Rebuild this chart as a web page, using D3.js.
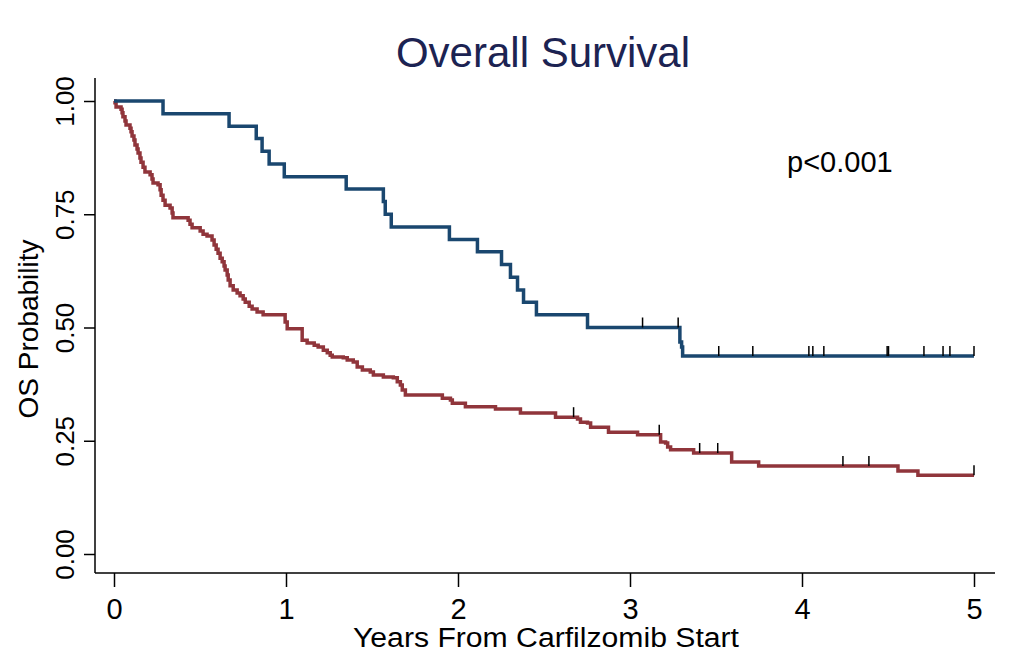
<!DOCTYPE html>
<html>
<head>
<meta charset="utf-8">
<script src="https://cdn.jsdelivr.net/npm/d3@7"></script>
<style>
  body { margin: 0; background: #ffffff; }
  text { font-family: "Liberation Sans", Arial, sans-serif; }
</style>
</head>
<body>
<div id="chart"></div>
<script>
// Kaplan-Meier steps (time in years, survival after the drop)
const blueTimes = [0.285, 0.669, 0.827, 0.861, 0.902, 0.990, 1.350, 1.566, 1.577, 1.612,
    1.950, 2.113, 2.253, 2.305, 2.346, 2.381, 2.456, 2.753, 3.290, 3.300, 3.306];
const blueSurv = [0.972, 0.944, 0.917, 0.889, 0.861, 0.833, 0.806, 0.778, 0.750, 0.722,
    0.694, 0.667, 0.639, 0.611, 0.583, 0.556, 0.528, 0.500, 0.468, 0.457, 0.437];
const blueCensor = [3.073, 3.280, 3.516, 3.714, 4.040, 4.063, 4.127, 4.495, 4.503,
    4.709, 4.820, 4.860, 5.0];

const redTimes = [0.006, 0.012, 0.041, 0.047, 0.052, 0.064, 0.070, 0.093, 0.099, 0.105,
    0.116, 0.122, 0.134, 0.140, 0.151, 0.157, 0.169, 0.180, 0.210, 0.221,
    0.227, 0.256, 0.268, 0.274, 0.285, 0.297, 0.326, 0.338, 0.343, 0.431,
    0.442, 0.454, 0.501, 0.518, 0.541, 0.570, 0.582, 0.594, 0.605, 0.617,
    0.629, 0.640, 0.646, 0.658, 0.664, 0.675, 0.693, 0.716, 0.733, 0.751,
    0.763, 0.786, 0.803, 0.832, 0.867, 0.995, 1.007, 1.094, 1.123, 1.164,
    1.187, 1.217, 1.240, 1.257, 1.269, 1.333, 1.356, 1.391, 1.414, 1.444,
    1.490, 1.508, 1.566, 1.624, 1.647, 1.665, 1.676, 1.694, 1.909, 1.956,
    1.967, 2.043, 2.218, 2.363, 2.567, 2.695, 2.712, 2.753, 2.771, 2.875,
    3.044, 3.178, 3.207, 3.219, 3.236, 3.370, 3.591, 3.748, 4.558, 4.674];
const redSurv = [0.996, 0.987, 0.982, 0.974, 0.965, 0.956, 0.947, 0.940, 0.932, 0.923,
    0.914, 0.903, 0.894, 0.885, 0.874, 0.865, 0.854, 0.843, 0.837, 0.828,
    0.819, 0.815, 0.804, 0.792, 0.781, 0.770, 0.764, 0.753, 0.742, 0.737,
    0.728, 0.720, 0.713, 0.706, 0.702, 0.693, 0.682, 0.673, 0.664, 0.653,
    0.645, 0.636, 0.627, 0.616, 0.605, 0.592, 0.583, 0.576, 0.570, 0.563,
    0.556, 0.547, 0.541, 0.534, 0.528, 0.512, 0.497, 0.472, 0.466, 0.461,
    0.457, 0.450, 0.444, 0.439, 0.435, 0.433, 0.428, 0.424, 0.413, 0.406,
    0.402, 0.395, 0.391, 0.389, 0.380, 0.373, 0.362, 0.351, 0.344, 0.340,
    0.333, 0.325, 0.320, 0.311, 0.302, 0.298, 0.291, 0.289, 0.280, 0.269,
    0.263, 0.247, 0.245, 0.236, 0.230, 0.223, 0.203, 0.194, 0.183, 0.174];
const redCensor = [2.672, 3.170, 3.405, 3.510, 4.238, 4.389, 5.0];

const xTicks = [0, 1, 2, 3, 4, 5];
const yTicks = [0, 0.25, 0.5, 0.75, 1];

const width = 1024, height = 660;
const navy = "#1a476f", maroon = "#90353b";

const svg = d3.select("#chart").append("svg")
    .attr("width", width)
    .attr("height", height);

// plot region (axis spines) and data range inside it
const plot = {left: 95, right: 995, top: 78, bottom: 573};
const x = d3.scaleLinear().domain([0, 5]).range([114, 974]);
const y = d3.scaleLinear().domain([0, 1]).range([554, 101]);

// title
svg.append("text")
    .attr("x", 543)
    .attr("y", 67)
    .attr("text-anchor", "middle")
    .attr("font-size", 42)
    .attr("fill", "#1c2352")
    .text("Overall Survival");

// x axis
const xAxis = svg.append("g")
    .attr("transform", `translate(0,${plot.bottom})`)
    .call(d3.axisBottom(x).tickValues(xTicks).tickSize(14).tickFormat(d3.format("d")));
xAxis.select(".domain").remove();
xAxis.selectAll(".tick line").attr("stroke", "#000").attr("stroke-width", 1.5);
xAxis.selectAll(".tick text")
    .attr("y", 46)
    .attr("dy", 0)
    .attr("font-size", 29)
    .attr("fill", "#000");

// y axis
const yAxis = svg.append("g")
    .attr("transform", `translate(${plot.left},0)`)
    .call(d3.axisLeft(y).tickValues(yTicks).tickSize(11).tickFormat(d3.format(".2f")));
yAxis.select(".domain").remove();
yAxis.selectAll(".tick line").attr("stroke", "#000").attr("stroke-width", 1.5);
yAxis.selectAll(".tick text")
    .attr("transform", "rotate(-90)")
    .attr("text-anchor", "middle")
    .attr("x", 0)
    .attr("y", -21)
    .attr("dy", 0)
    .attr("font-size", 26)
    .attr("fill", "#000");

// spines
svg.append("line")
    .attr("x1", plot.left).attr("x2", plot.left)
    .attr("y1", plot.top).attr("y2", plot.bottom)
    .attr("stroke", "#000").attr("stroke-width", 1.5);
svg.append("line")
    .attr("x1", plot.left).attr("x2", plot.right)
    .attr("y1", plot.bottom).attr("y2", plot.bottom)
    .attr("stroke", "#000").attr("stroke-width", 1.5);

// axis titles
svg.append("text")
    .attr("x", 546)
    .attr("y", 647)
    .attr("text-anchor", "middle")
    .attr("font-size", 27)
    .attr("textLength", 386)
    .attr("lengthAdjust", "spacingAndGlyphs")
    .attr("fill", "#000")
    .text("Years From Carfilzomib Start");

svg.append("text")
    .attr("transform", `translate(38,329) rotate(-90)`)
    .attr("text-anchor", "middle")
    .attr("font-size", 28)
    .attr("fill", "#000")
    .text("OS Probability");

// p value
svg.append("text")
    .attr("x", 787)
    .attr("y", 172)
    .attr("font-size", 29)
    .attr("fill", "#000")
    .text("p<0.001");

// survival curves
function steps(times, surv) {
    const pts = [[0, 1]];
    times.forEach((t, i) => pts.push([t, surv[i]]));
    pts.push([5, surv[surv.length - 1]]);
    return pts;
}
function survAt(times, surv, t) {
    let s = 1;
    times.forEach((ti, i) => { if (ti <= t) s = surv[i]; });
    return s;
}

const line = d3.line()
    .x(d => x(d[0]))
    .y(d => y(d[1]))
    .curve(d3.curveStepAfter);

const series = [
    {times: redTimes, surv: redSurv, censor: redCensor, color: maroon},
    {times: blueTimes, surv: blueSurv, censor: blueCensor, color: navy}
];

series.forEach(s => {
    svg.append("path")
        .datum(steps(s.times, s.surv))
        .attr("d", line)
        .attr("fill", "none")
        .attr("stroke", s.color)
        .attr("stroke-width", 3.5)
        .attr("stroke-linejoin", "miter");

    svg.selectAll(null)
        .data(s.censor)
        .enter().append("line")
        .attr("x1", d => x(d))
        .attr("x2", d => x(d))
        .attr("y1", d => y(survAt(s.times, s.surv, d)))
        .attr("y2", d => y(survAt(s.times, s.surv, d)) - 10)
        .attr("stroke", "#000")
        .attr("stroke-width", 1.5);
});
</script>
</body>
</html>
